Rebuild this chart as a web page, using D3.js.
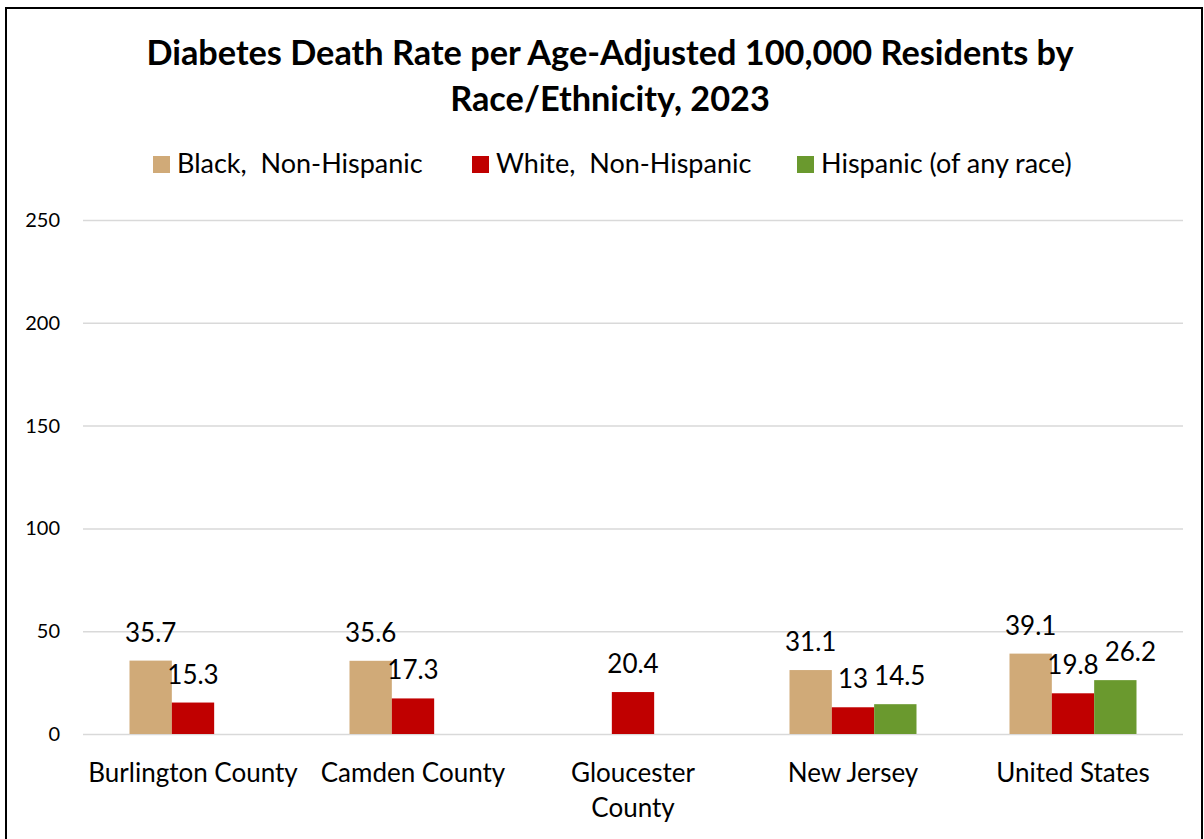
<!DOCTYPE html>
<html>
<head>
<meta charset="utf-8">
<script src="https://cdn.jsdelivr.net/npm/d3@7"></script>
<style>
  body { margin: 0; background: #fff; }
  svg { display: block; font-family: Lato, "Open Sans", sans-serif; }
  .axis .domain { display: none; }
  .axis text { font-family: Lato, "Open Sans", sans-serif; fill: #000; }
  .y-axis line { stroke: #d9d9d9; stroke-width: 1.5; }
  .y-axis text { font-size: 20px; }
  .x-axis text { font-size: 26px; }
  .label { font-size: 26px; fill: #000; }
  .legend text { font-size: 27px; fill: #000; white-space: pre; }
</style>
</head>
<body>
<svg id="chart"></svg>
<script>
const categories = ["Burlington County", "Camden County", "Gloucester County", "New Jersey", "United States"]
const tickLabels = [["Burlington County"], ["Camden County"], ["Gloucester", "County"], ["New Jersey"], ["United States"]]
const seriesNames = ["Black,  Non-Hispanic", "White,  Non-Hispanic", "Hispanic (of any race)"]
const blackValues = [35.7, 35.6, null, 31.1, 39.1]
const whiteValues = [15.3, 17.3, 20.4, 13, 19.8]
const hispanicValues = [null, null, null, 14.5, 26.2]
const yTicks = [0, 50, 100, 150, 200, 250]
const colors = ["#d0aa78", "#c00000", "#6a992e"]

const config = {
    containerWidth: 1204,
    containerHeight: 839,
    margin: {top: 220, right: 21, bottom: 105, left: 83}
}
const width = config.containerWidth - config.margin.left - config.margin.right
const height = config.containerHeight - config.margin.top - config.margin.bottom

const svg = d3.select('#chart')
    .attr('width', config.containerWidth)
    .attr('height', config.containerHeight)

// outer frame
svg.append('rect')
    .attr('x', 6).attr('y', 8)
    .attr('width', 1196).attr('height', 850)
    .attr('fill', 'none')
    .attr('stroke', '#000')
    .attr('stroke-width', 2)

// title
const title = svg.append('text')
    .attr('text-anchor', 'middle')
    .attr('font-weight', 'bold')
    .attr('font-size', 34.3)
title.append('tspan').attr('x', 610).attr('y', 65).text('Diabetes Death Rate per Age-Adjusted 100,000 Residents by')
title.append('tspan').attr('x', 610).attr('y', 111).text('Race/Ethnicity, 2023')

// legend
const legendX = [153, 472, 797]
const legend = svg.append('g').attr('class', 'legend')
seriesNames.forEach((name, i) => {
    const g = legend.append('g').attr('transform', `translate(${legendX[i]},156)`)
    g.append('rect').attr('width', 17).attr('height', 17).attr('fill', colors[i])
    g.append('text').attr('x', 24).attr('y', 17).text(name)
})

const chart = svg.append('g')
    .attr('transform', `translate(${config.margin.left},${config.margin.top})`)

const xScale = d3.scaleBand()
    .domain(categories)
    .range([0, width])

const groupWidth = 127
const x1Scale = d3.scaleBand()
    .domain(d3.range(seriesNames.length))
    .range([(xScale.bandwidth() - groupWidth) / 2, (xScale.bandwidth() + groupWidth) / 2])

const yScale = d3.scaleLinear()
    .domain([0, 250])
    .range([height, 0])

const yAxis = d3.axisLeft(yScale)
    .tickValues(yTicks)
    .tickSize(-width)
    .tickPadding(23)
chart.append('g')
    .attr('class', 'axis y-axis')
    .call(yAxis)

const xAxis = d3.axisBottom(xScale).tickSize(0).tickPadding(0)
const xAxisG = chart.append('g')
    .attr('class', 'axis x-axis')
    .attr('transform', `translate(0,${height})`)
    .call(xAxis)
xAxisG.selectAll('.tick text')
    .text(null)
    .attr('y', 0)
    .attr('dy', null)
    .each(function(d, i) {
        const t = d3.select(this)
        tickLabels[i].forEach((line, j) => {
            t.append('tspan').attr('x', 0).attr('y', 48 + j * 35).text(line)
        })
    })

// flatten values
const allSeries = [blackValues, whiteValues, hispanicValues]
const bars = []
categories.forEach((c, ci) => {
    allSeries.forEach((vals, si) => {
        if (vals[ci] != null) bars.push({category: c, series: si, value: vals[ci]})
    })
})

chart.selectAll('.bar')
    .data(bars)
    .join('rect')
        .attr('class', 'bar')
        .attr('x', d => xScale(d.category) + x1Scale(d.series))
        .attr('width', x1Scale.bandwidth())
        .attr('y', d => yScale(d.value))
        .attr('height', d => height - yScale(d.value))
        .attr('fill', d => colors[d.series])

const labels = chart.selectAll('.label')
    .data(bars)
    .join('text')
        .attr('class', 'label')
        .attr('text-anchor', 'middle')
        .attr('x', d => xScale(d.category) + x1Scale(d.series) + x1Scale.bandwidth() / 2)
        .attr('y', d => yScale(d.value) - 19)
        .text(d => d.value)

// nudge labels right when they collide with the previous one in the same group
const placed = []
labels.each(function(d) {
    const el = d3.select(this)
    let b = this.getBBox()
    placed.filter(p => p.d.category === d.category).forEach(p => {
        const vOverlap = b.y < p.b.y + p.b.height - 6 && b.y + b.height - 6 > p.b.y
        if (vOverlap && b.x < p.b.x + p.b.width + 6) {
            const shift = p.b.x + p.b.width + 6 - b.x
            el.attr('x', +el.attr('x') + shift)
            b = this.getBBox()
        }
    })
    placed.push({d: d, b: b})
})
</script>
</body>
</html>
